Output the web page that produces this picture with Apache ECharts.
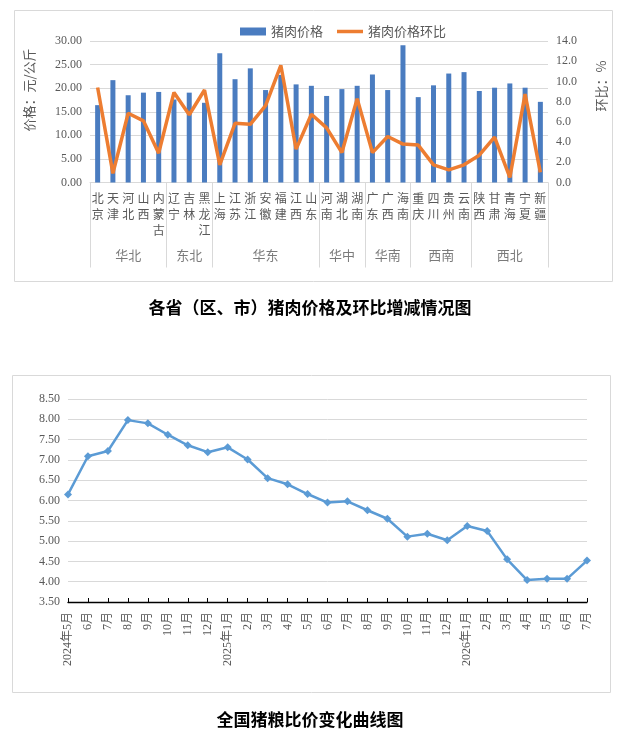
<!DOCTYPE html>
<html lang="zh">
<head>
    <meta charset="UTF-8">
    <title>猪肉价格及猪粮比价</title>
    <script src="https://cdn.jsdelivr.net/npm/echarts@6/dist/echarts.min.js"></script>
    <style>
        html, body { margin: 0; padding: 0; background: #fff; }
        #main { width: 620px; height: 731px; }
    </style>
</head>
<body>
<div id="main"></div>
<script type="text/javascript">
    // 各省猪肉价格（元/公斤）及环比（%）
    var provinces = ['北京', '天津', '河北', '山西', '内蒙古', '辽宁', '吉林', '黑龙江', '上海', '江苏', '浙江', '安徽', '福建', '江西', '山东',
        '河南', '湖北', '湖南', '广东', '广西', '海南', '重庆', '四川', '贵州', '云南', '陕西', '甘肃', '青海', '宁夏', '新疆'];
    var prices = [16.4, 21.7, 18.5, 19.05, 19.2, 17.6, 19.05, 16.9, 27.4, 21.9, 24.2, 19.6, 22.8, 20.8, 20.5,
        18.35, 19.8, 20.5, 22.9, 19.6, 29.1, 18.1, 20.6, 23.1, 23.4, 19.4, 20.1, 21.0, 20.1, 17.1];
    var momPct = [9.4, 0.9, 6.85, 6.1, 2.9, 8.9, 6.7, 9.15, 1.75, 5.86, 5.76, 7.6, 11.6, 3.3, 6.75,
        5.4, 2.96, 8.3, 2.96, 4.55, 3.8, 3.7, 1.75, 1.25, 1.75, 2.7, 4.5, 0.5, 8.75, 1.0];
    var regions = ['华北', '东北', '华东', '华中', '华南', '西南', '西北'];
    var regionSizes = [5, 3, 7, 3, 3, 4, 5];

    // 全国猪粮比价
    var months = ['2024年5月', '6月', '7月', '8月', '9月', '10月', '11月', '12月',
        '2025年1月', '2月', '3月', '4月', '5月', '6月', '7月', '8月', '9月', '10月', '11月', '12月',
        '2026年1月', '2月', '3月', '4月', '5月', '6月', '7月'];
    var ratios = [6.15, 7.09, 7.22, 7.98, 7.90, 7.62, 7.36, 7.19, 7.31, 7.01, 6.55, 6.40, 6.16, 5.95, 5.98,
        5.76, 5.55, 5.11, 5.18, 5.02, 5.37, 5.25, 4.55, 4.04, 4.07, 4.07, 4.52];

    var labelFont = '"Liberation Serif", "Noto Sans CJK SC", serif';
    var grey = '#595959';
    var gridColor = '#d9d9d9';

    // 区域分组：中心位置与分隔线
    var regionData = [];
    var bounds = [{xAxis: 0}];
    var acc = 0;
    for (var i = 0; i < regions.length; i++) {
        regionData.push({name: regions[i], value: [acc + regionSizes[i] / 2, 0.15]});
        acc += regionSizes[i];
        bounds.push({xAxis: acc});
    }

    var chart = echarts.init(document.getElementById('main'));
    var option = {
        animation: false,
        title: [{
            text: '各省（区、市）猪肉价格及环比增减情况图',
            left: 'center', top: 299, padding: 0,
            textStyle: {fontSize: 17, fontWeight: 'bold', color: '#000', fontFamily: 'Noto Sans CJK SC'}
        }, {
            text: '全国猪粮比价变化曲线图',
            left: 'center', top: 711, padding: 0,
            textStyle: {fontSize: 17, fontWeight: 'bold', color: '#000', fontFamily: 'Noto Sans CJK SC'}
        }],
        legend: {
            data: [
                {name: '猪肉价格', icon: 'rect'},
                {name: '猪肉价格环比', icon: 'path://M0,0 H26 V3.5 H0 Z'}
            ],
            left: 235, top: 20,
            itemWidth: 26, itemHeight: 8, itemGap: 14,
            textStyle: {color: grey, fontSize: 13, fontFamily: 'Noto Sans CJK SC'}
        },
        graphic: [
            {type: 'rect', shape: {x: 14.5, y: 10.5, width: 598, height: 271}, style: {fill: 'none', stroke: gridColor}},
            {type: 'rect', shape: {x: 12.5, y: 375.5, width: 598, height: 317}, style: {fill: 'none', stroke: gridColor}},
            {type: 'text', x: 29, y: 90, rotation: Math.PI / 2,
                style: {text: '价格：元/公斤', align: 'center', verticalAlign: 'middle', fill: grey, font: '13px "Noto Sans CJK SC"'}},
            {type: 'text', x: 601, y: 86, rotation: Math.PI / 2,
                style: {text: '环比：%', align: 'center', verticalAlign: 'middle', fill: grey, font: '13px "Noto Sans CJK SC"'}}
        ],
        grid: [
            {left: 90, right: 72, top: 41, height: 141.5},
            {left: 90, right: 72, top: 182.5, height: 85},
            {left: 68, right: 33, top: 399, height: 203}
        ],
        xAxis: [{
            gridIndex: 0,
            type: 'category',
            data: provinces,
            axisLine: {lineStyle: {color: gridColor}},
            axisTick: {show: false},
            axisLabel: {
                interval: 0, margin: 8, color: grey, fontSize: 12, lineHeight: 16,
                fontFamily: 'Noto Sans CJK SC',
                formatter: function (v) { return v.split('').join('\n'); }
            }
        }, {
            gridIndex: 1, type: 'value', min: 0, max: provinces.length, show: false
        }, {
            gridIndex: 2,
            type: 'category',
            boundaryGap: false,
            data: months,
            axisLine: {lineStyle: {color: '#000', width: 1.3}},
            axisTick: {inside: true, length: 4, lineStyle: {color: '#000'}},
            axisLabel: {interval: 0, rotate: 90, margin: 10, color: grey, fontSize: 12, fontFamily: labelFont}
        }],
        yAxis: [{
            gridIndex: 0, type: 'value', min: 0, max: 30, interval: 5,
            axisLine: {show: false}, axisTick: {show: false},
            axisLabel: {color: grey, fontSize: 12, margin: 8, fontFamily: labelFont,
                formatter: function (v) { return v.toFixed(2); }},
            splitLine: {lineStyle: {color: gridColor}}
        }, {
            gridIndex: 0, type: 'value', position: 'right', min: 0, max: 14, interval: 2,
            axisLine: {show: false}, axisTick: {show: false},
            axisLabel: {color: grey, fontSize: 12, margin: 8, fontFamily: labelFont,
                formatter: function (v) { return v.toFixed(1); }},
            splitLine: {show: false}
        }, {
            gridIndex: 1, type: 'value', min: 0, max: 1, show: false
        }, {
            gridIndex: 2, type: 'value', min: 3.5, max: 8.5, interval: 0.5,
            axisLine: {show: false}, axisTick: {show: false},
            axisLabel: {color: grey, fontSize: 12, margin: 8, fontFamily: labelFont,
                formatter: function (v) { return v.toFixed(2); }},
            splitLine: {lineStyle: {color: gridColor}}
        }],
        series: [{
            name: '猪肉价格',
            type: 'bar',
            xAxisIndex: 0, yAxisIndex: 0,
            data: prices,
            barWidth: 5,
            itemStyle: {color: '#4a7cc0'}
        }, {
            name: '猪肉价格环比',
            type: 'line',
            xAxisIndex: 0, yAxisIndex: 1,
            data: momPct,
            symbol: 'none',
            z: 5,
            itemStyle: {color: '#ED7D31'},
            lineStyle: {color: '#ED7D31', width: 3.5}
        }, {
            name: '区域',
            type: 'scatter',
            xAxisIndex: 1, yAxisIndex: 2,
            data: regionData,
            symbolSize: 0,
            silent: true,
            label: {
                show: true, position: 'inside', color: grey, fontSize: 13,
                fontFamily: 'Noto Sans CJK SC',
                formatter: function (p) { return p.name; }
            },
            markLine: {
                silent: true,
                symbol: ['none', 'none'],
                label: {show: false},
                lineStyle: {color: gridColor, type: 'solid', width: 1},
                data: bounds
            }
        }, {
            name: '猪粮比价',
            type: 'line',
            xAxisIndex: 2, yAxisIndex: 3,
            data: ratios,
            symbol: 'diamond',
            symbolSize: 8,
            itemStyle: {color: '#5B9BD5'},
            lineStyle: {color: '#5B9BD5', width: 2.5}
        }]
    };
    chart.setOption(option);
    window.addEventListener('resize', function () {
        chart.resize();
    });
</script>
</body>
</html>
